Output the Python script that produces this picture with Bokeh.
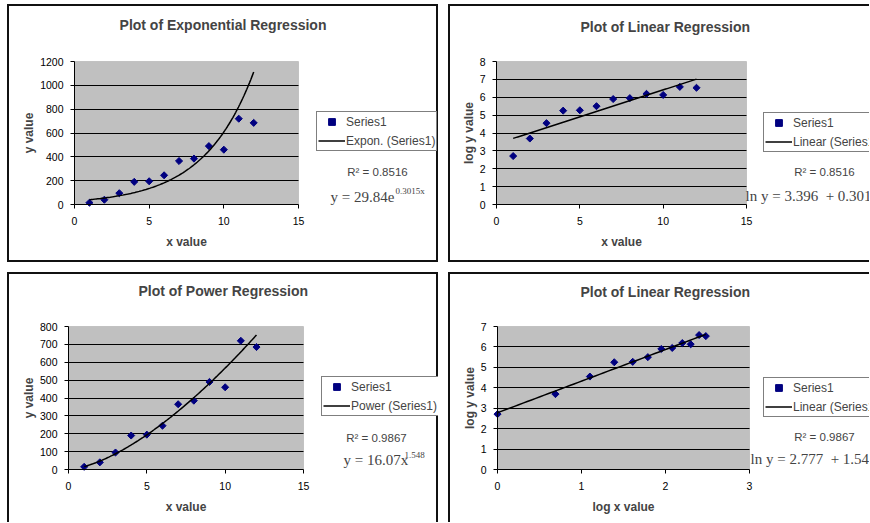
import numpy as np
from bokeh.plotting import figure
from bokeh.models import Range1d, Label, Legend, LegendItem, FixedTicker, BoxAnnotation
from bokeh.layouts import column, row
from bokeh.embed import file_html
from bokeh.resources import INLINE

# ---------------- data ----------------
x_values = [1, 2, 3, 4, 5, 6, 7, 8, 9, 10, 11, 12]
y_values = [15, 40, 95, 190, 195, 245, 365, 385, 490, 460, 720, 685]
ln_y_values = [2.71, 3.69, 4.55, 5.25, 5.27, 5.50, 5.90, 5.95, 6.19, 6.13, 6.58, 6.53]
ln_x_values = [0.00, 0.69, 1.10, 1.39, 1.61, 1.79, 1.95, 2.08, 2.20, 2.30, 2.40, 2.48]

exp_a, exp_b, exp_r2 = 29.84, 0.3015, 0.8516
pow_a, pow_b, pow_r2 = 16.07, 1.548, 0.9867
lin1_a, lin1_b = 3.396, 0.3015
lin2_a, lin2_b = 2.777, 1.548

titles = ["Plot of Exponential Regression", "Plot of Linear Regression",
          "Plot of Power Regression", "Plot of Linear Regression"]
legend_labels = ["Expon. (Series1)", "Linear (Series1)", "Power (Series1)", "Linear (Series1)"]

SANS = "Liberation Sans"
SERIF = "Liberation Serif"
NAVY = "#000080"


def make_panel(W, H, gl, gr, gt, gb, xlim, ylim, xt, yt, xlabel, ylabel, shadow):
    sx = (xlim[1] - xlim[0]) / (gr - gl)
    sy = (ylim[1] - ylim[0]) / (gb - gt)
    p = figure(width=W, height=H, title=None,
               x_range=Range1d(xlim[0] - gl * sx, xlim[1] + (W - gr) * sx),
               y_range=Range1d(ylim[0] - (H - gb) * sy, ylim[1] + gt * sy),
               output_backend="svg", toolbar_location=None,
               min_border_left=0, min_border_right=0, min_border_top=0, min_border_bottom=0,
               border_fill_color=None, background_fill_color=None,
               outline_line_color=None, styles={"box-shadow": shadow})
    p.add_layout(BoxAnnotation(left=xlim[0], right=xlim[1], bottom=ylim[0], top=ylim[1],
                               fill_color="#C0C0C0", fill_alpha=1.0, line_color="#808080",
                               line_width=1, level="image"))
    p.xgrid.visible = False
    p.ygrid.grid_line_color = "black"
    p.ygrid.grid_line_width = 1
    p.ygrid.ticker = FixedTicker(ticks=yt[1:-1])
    try:
        p.ygrid.cross_bounds = tuple(xlim)
    except Exception:
        p.ygrid.visible = False
        p.segment(x0=xlim[0], x1=xlim[1], y0=yt[1:-1], y1=yt[1:-1], line_color="black", line_width=1)
    for ax, ticks, lab, loc, bnd in ((p.xaxis[0], xt, xlabel, ylim[0], xlim),
                                     (p.yaxis[0], yt, ylabel, xlim[0], ylim)):
        ax.fixed_location = loc
        ax.bounds = tuple(bnd)
        ax.ticker = FixedTicker(ticks=ticks)
        ax.axis_label = lab
        ax.axis_label_text_font = SANS
        ax.axis_label_text_font_style = "bold"
        ax.axis_label_text_font_size = "12px"
        ax.major_label_text_font = SANS
        ax.major_label_text_font_size = "10.5px"
        ax.major_label_text_color = "black"
        ax.axis_line_color = "black"
        ax.major_tick_line_color = "black"
        ax.major_tick_in = 0
        ax.major_tick_out = 4
        ax.minor_tick_line_color = None
    p.xaxis.major_label_standoff = 8
    p.xaxis.axis_label_standoff = 7
    p.yaxis.major_label_standoff = 7
    p.yaxis.axis_label_standoff = 1
    return p


def txt(p, H, x, y, text, font, size, align="left", style="normal"):
    p.add_layout(Label(x=x, y=H - y, x_units="screen", y_units="screen", text=text,
                       text_font=font, text_font_size=size, text_font_style=style,
                       text_align=align, text_baseline="middle"))


def decorate(p, H, title, tpos, items, leg_pos, r2, rpos, eq_main, eq_pos, eq_sup=None, sup_pos=None):
    txt(p, H, tpos[0], tpos[1], title, SANS, "14px", "center", "bold")
    leg = Legend(items=items, location=(leg_pos[0], H - leg_pos[1]), orientation="vertical",
                 border_line_color="black", border_line_width=1,
                 background_fill_color="white", background_fill_alpha=1.0,
                 label_text_font=SANS, label_text_font_size="12px",
                 glyph_width=27, glyph_height=17, label_height=17,
                 label_standoff=1, padding=1, spacing=2, margin=0)
    p.add_layout(leg, "center")
    txt(p, H, rpos[0], rpos[1], "R\u00b2 = %.4f" % r2, SANS, "11.5px", "center")
    txt(p, H, eq_pos[0], eq_pos[1], eq_main, SERIF, "15px", "left")
    if eq_sup:
        txt(p, H, sup_pos[0], sup_pos[1], eq_sup, SERIF, "9px", "left")


def series(p, xs, ys, cx, cy, label):
    sr = p.scatter(xs, ys, marker="square", angle=np.pi / 4, size=5,
                   fill_color=NAVY, line_color=NAVY)
    lr = p.line(cx, cy, line_color="black", line_width=1.5)
    return [LegendItem(label="Series1", renderers=[sr]), LegendItem(label=label, renderers=[lr])]


cx = np.linspace(x_values[0], x_values[-1], 120)

# ---- top-left: exponential ----
H = 258
p1 = make_panel(431, H, 67, 291, 57, 200, (0, 15), (0, 1200), [0, 5, 10, 15], list(range(0, 1201, 200)),
                "x value", "y value",
                "inset 2px 0 0 #111, inset 0 2px 0 #111, inset -2px 0 0 #111, inset 0 -2px 0 #111")
it = series(p1, x_values, y_values, cx, exp_a * np.exp(exp_b * cx), legend_labels[0])
decorate(p1, H, titles[0], (215.5, 20), it, (309, 147), exp_r2, (370, 167),
         "y = %.2fe" % exp_a, (323, 192), "%.4fx" % exp_b, (388, 186.5))

# ---- top-right: linear on ln y ----
p2 = make_panel(421, H, 48, 298, 57, 200, (0, 15), (0, 8), [0, 5, 10, 15], list(range(0, 9)),
                "x value", "log y value",
                "inset 2px 0 0 #111, inset 0 2px 0 #111, inset 0 -2px 0 #111")
it = series(p2, x_values, ln_y_values, cx, lin1_a + lin1_b * cx, legend_labels[1])
decorate(p2, H, titles[1], (216.7, 22), it, (315, 148), exp_r2, (376, 167),
         "ln y = %.3f\u00a0 + %.4fx" % (lin1_a, lin1_b), (297, 191))

# ---- bottom-left: power ----
H = 250
p3 = make_panel(431, H, 61, 296, 54, 197, (0, 15), (0, 800), [0, 5, 10, 15], list(range(0, 801, 100)),
                "x value", "y value",
                "inset 2px 0 0 #111, inset 0 2px 0 #111, inset -2px 0 0 #111")
it = series(p3, x_values, y_values, cx, pow_a * cx ** pow_b, legend_labels[2])
decorate(p3, H, titles[2], (215.7, 18.3), it, (314, 144), pow_r2, (369, 165.7),
         "y = %.2fx" % pow_a, (336, 187.5), "%.3f" % pow_b, (397, 182.7))

# ---- bottom-right: linear on ln x, ln y ----
p4 = make_panel(421, H, 49, 301, 54, 197, (0, 3), (0, 7), [0, 1, 2, 3], list(range(0, 8)),
                "log x value", "log y value",
                "inset 2px 0 0 #111, inset 0 2px 0 #111")
lx = np.linspace(ln_x_values[0], ln_x_values[-1], 50)
it = series(p4, ln_x_values, ln_y_values, lx, lin2_a + lin2_b * lx, legend_labels[3])
decorate(p4, H, titles[3], (216.7, 19.3), it, (315, 145), pow_r2, (376, 164),
         "ln y = %.3f\u00a0 + %.3flnx" % (lin2_a, lin2_b), (302, 186.7))

layout = column(row(p1, p2, spacing=10), row(p3, p4, spacing=10), spacing=10, margin=(4, 0, 0, 7))
open("out.html", "w").write(file_html(layout, INLINE))
